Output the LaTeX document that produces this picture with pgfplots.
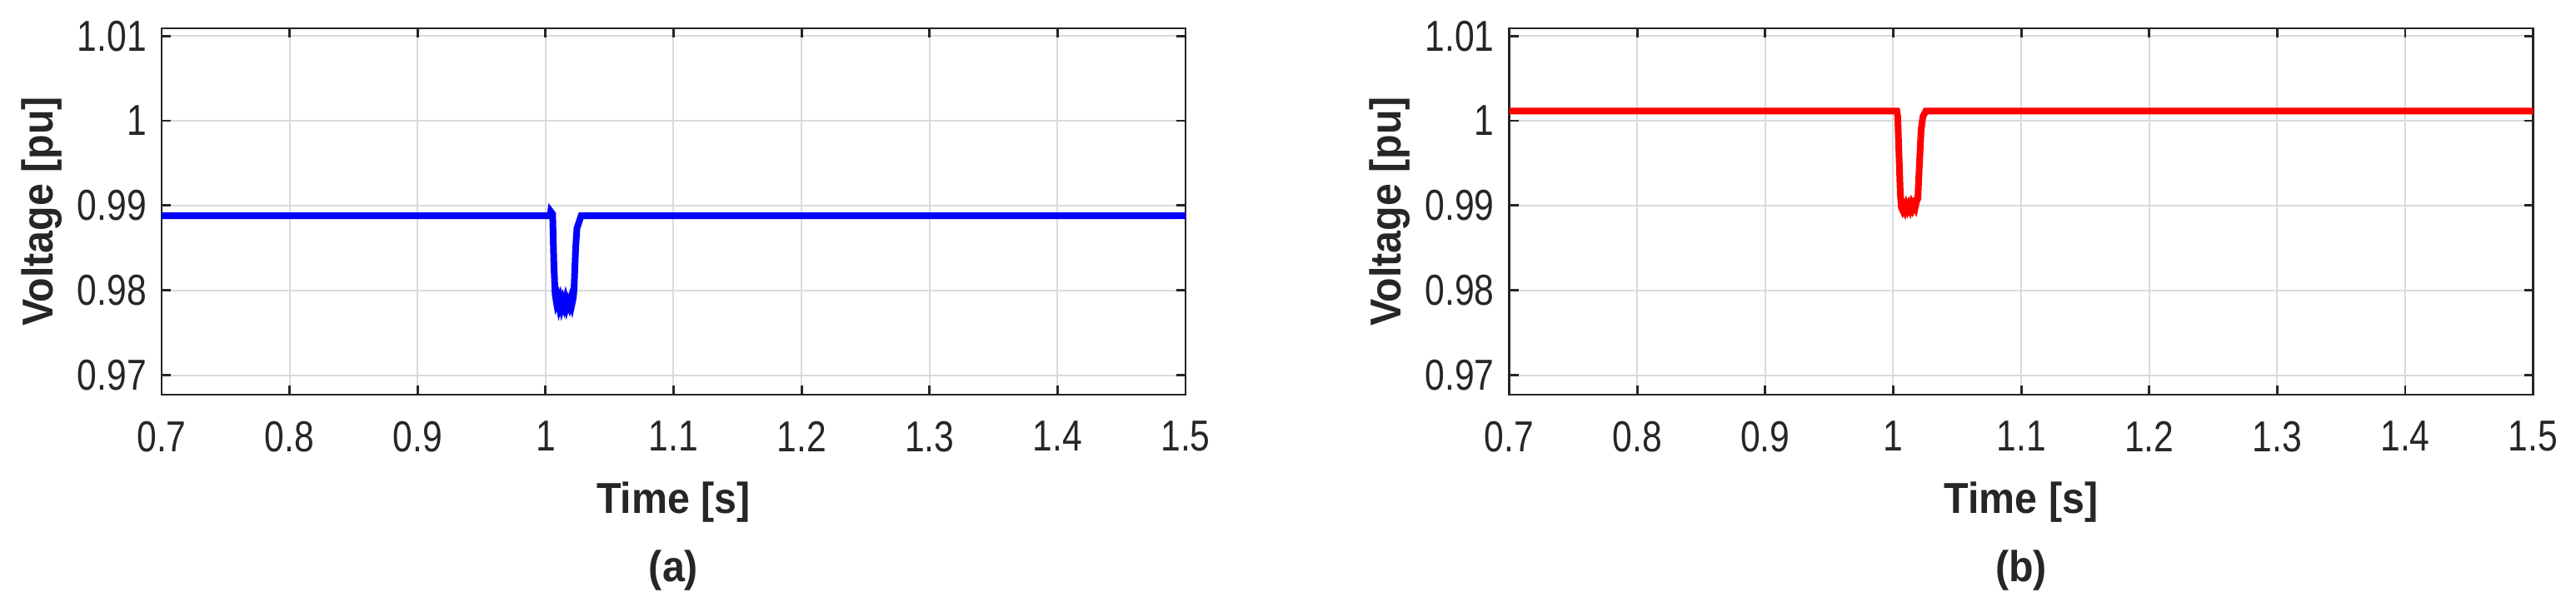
\documentclass[border=0pt]{standalone}
\usepackage{fontspec}
\setmainfont{Liberation Sans}
\newfontfamily\tickfont{Liberation Sans}[FakeStretch=0.82]
\newfontfamily\labfont{Liberation Sans}[FakeStretch=0.93]
\usepackage{pgfplots}
\pgfplotsset{compat=1.18}
\definecolor{axisgray}{RGB}{38,38,38}
\definecolor{gridgray}{RGB}{218,218,218}
\definecolor{mblue}{RGB}{0,0,255}
\definecolor{mred}{RGB}{255,0,0}
\pgfplotsset{
  panel/.style={scale only axis, width=307.25pt, height=110pt,
    xmin=0.7, xmax=1.5, ymin=0.9677, ymax=1.0109,
    xtick={0.7,0.8,0.9,1.0,1.1,1.2,1.3,1.4,1.5},
    ytick={0.97,0.98,0.99,1.0,1.01},
    clip mode=individual,
    font=\fontsize{13}{15}\selectfont,
    /pgf/number format/assume math mode=true,
    /pgf/number format/fixed, /pgf/number format/precision=2,
    axis line style={axisgray, line width=0.7pt},
    tick style={axisgray, line width=0.7pt}, tick align=inside, major tick length=2.75pt,
    grid=major, major grid style={gridgray, line width=0.5pt},
    tick label style={color=axisgray, font=\fontsize{13}{15}\selectfont\tickfont},
    xticklabel style={yshift=-4.5pt}, yticklabel style={xshift=-1pt},
    xlabel={Time [s]}, ylabel={Voltage [pu]},
    label style={font=\fontsize{13}{15}\selectfont\labfont\bfseries, color=axisgray},
    xlabel style={at={(axis description cs:0.5,-0.293)}, anchor=center},
    ylabel style={at={(axis description cs:-0.117,0.5)}, anchor=center},
  },
}
\begin{document}
\begin{tikzpicture}
\useasboundingbox (-48.5pt,-65.25pt) rectangle (724.5pt,118.5pt);
% (a) bus voltage, blue
\begin{axis}[panel]
  \addplot[mblue, line width=2pt] coordinates {
    (0.7,0.9888) (1.0035,0.9888) (1.0040,0.9893) (1.0055,0.9890) (1.0065,0.9830)
    (1.0075,0.9795) (1.0085,0.9786) (1.0095,0.9790) (1.0105,0.9782) (1.0115,0.9788)
    (1.0125,0.9781) (1.0135,0.9787) (1.0145,0.9782) (1.0155,0.9788) (1.0165,0.9781)
    (1.0175,0.9786) (1.0185,0.9782) (1.0195,0.9788) (1.0205,0.9783) (1.0215,0.9790)
    (1.0222,0.9800) (1.0235,0.9850) (1.0245,0.9873) (1.0260,0.9880) (1.0278,0.9888)
    (1.5,0.9888)};
  \node[font=\fontsize{13}{15}\selectfont\labfont\bfseries, text=axisgray] at (axis description cs:0.5,-0.48) {(a)};
\end{axis}
% (b) bus voltage, red
\begin{axis}[panel, at={(404.4pt,0pt)}]
  \addplot[mred, line width=2pt] coordinates {
    (0.7,1.00115) (1.0028,1.00115) (1.0035,1.0005) (1.0045,0.9960) (1.0055,0.9915)
    (1.0063,0.9898) (1.0072,0.9895) (1.0082,0.9899) (1.0092,0.9895) (1.0102,0.9900)
    (1.0112,0.9896) (1.0122,0.9900) (1.0132,0.9896) (1.0142,0.9901) (1.0152,0.9897)
    (1.0162,0.9901) (1.0172,0.9898) (1.0182,0.9905) (1.0192,0.9908) (1.0205,0.9950)
    (1.0218,0.9990) (1.0232,1.0005) (1.0255,1.00115) (1.5,1.00115)};
  \node[font=\fontsize{13}{15}\selectfont\labfont\bfseries, text=axisgray] at (axis description cs:0.5,-0.48) {(b)};
\end{axis}
\end{tikzpicture}
\end{document}
